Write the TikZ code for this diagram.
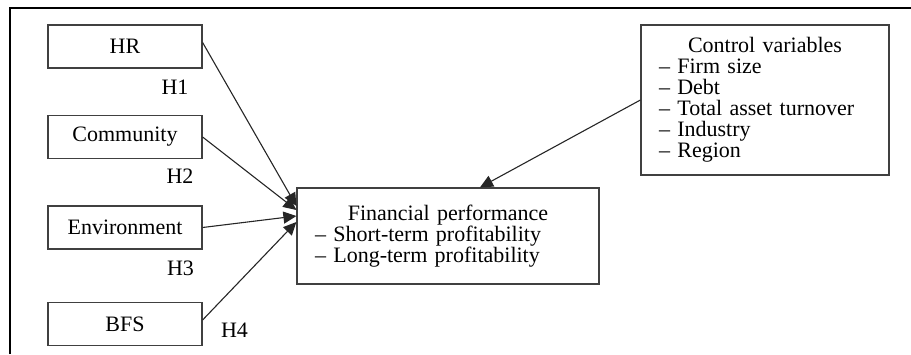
\documentclass[tikz,border=0pt]{standalone}
\usepackage{fontspec}
\setmainfont{Liberation Serif}
\usetikzlibrary{arrows.meta}
\begin{document}
\begin{tikzpicture}[x=0.5pt,y=-0.5pt,
  box/.style={draw=black!75,line width=0.6pt,fill=white,minimum width=77pt,minimum height=21.5pt,inner sep=0pt,font=\fontsize{11}{10.5}\selectfont},
  bigbox/.style={draw=black!75,line width=0.6pt,fill=white,inner xsep=9pt,inner ysep=0pt,align=left,font=\fontsize{11}{10.5}\selectfont},
  hlabel/.style={inner sep=0pt,font=\fontsize{11}{11}\selectfont},
  arr/.style={draw=black!85,line width=0.55pt,-{Triangle[length=6.5pt,width=6pt]}}]
\useasboundingbox (0,0) rectangle (911,354);
\draw[line width=1pt] (10,354) -- (10,8) -- (911,8);
\node[box] (hr) at (125,46.5) {HR};
\node[box] (com) at (125,137) {Community};
\node[box] (env) at (125,227.5) {Environment};
\node[box] (bfs) at (125,324) {BFS};
\node[hlabel] (h1) at (175,87) {H1};
\node[hlabel] (h2) at (180,176) {H2};
\node[hlabel] (h3) at (180.5,268) {H3};
\node[hlabel] (h4) at (234.5,330) {H4};
\node[bigbox,minimum width=151pt,minimum height=48pt,text width=133pt] (fp) at (448,236)
  {\makebox[133pt][c]{Financial performance}\\ – Short-term profitability\\ – Long-term profitability};
\node[bigbox,minimum width=124pt,minimum height=75pt,text width=106pt] (ctrl) at (765,100)
  {\makebox[106pt][c]{Control variables}\\ – Firm size\\ – Debt\\ – Total asset turnover\\ – Industry\\ – Region};
\draw[arr] ([yshift=2pt]hr.east) -- ([yshift=15pt]fp.west);
\draw[arr] (com.east) -- ([yshift=13pt]fp.west);
\draw[arr] (env.east) -- ([yshift=10pt]fp.west);
\draw[arr] ([yshift=2pt]bfs.east) -- ([yshift=7pt]fp.west);
\draw[arr] (ctrl.west) -- ([xshift=16pt]fp.north);
\end{tikzpicture}
\end{document}
